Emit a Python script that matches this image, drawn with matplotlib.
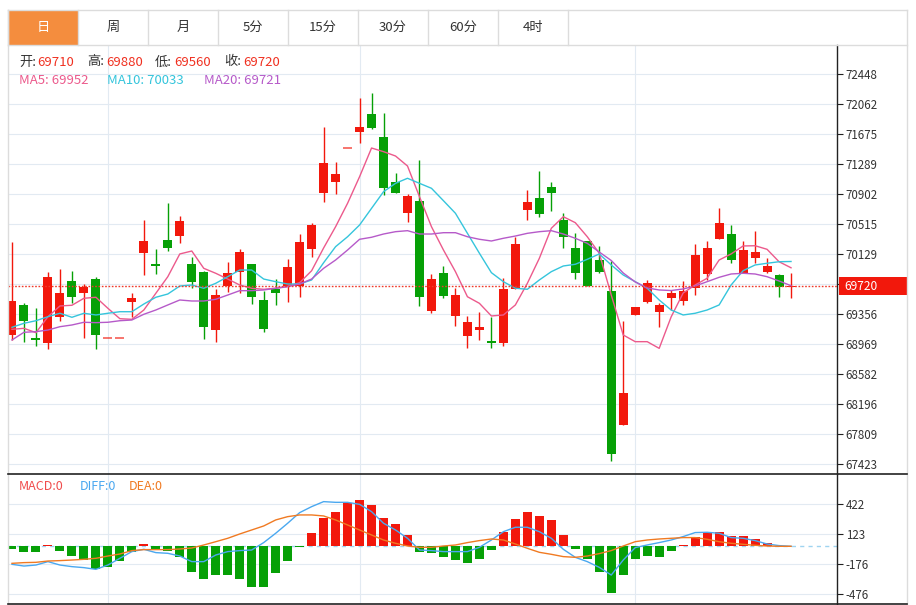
import matplotlib
matplotlib.use('Agg')
import matplotlib.pyplot as plt
from matplotlib.patches import Rectangle
import numpy as np

plt.rcParams['font.family'] = ['Noto Sans CJK SC', 'DejaVu Sans']

# ---------------- data ----------------
tabs = ['日', '周', '月', '5分', '15分', '30分', '60分', '4时']

opens = [69086, 69473, 69047, 68983, 69318, 69782, 69627, 69807, 69047, 69047,
         69511, 70142, 70001, 70310, 70361, 70001, 69898, 69150, 69717, 69898,
         70001, 69537, 69679, 69717, 69717, 70194, 70915, 71057, 71495, 71701,
         71933, 71637, 71057, 70658, 70812, 69395, 69885, 69331, 69073, 69150,
         69009, 68983, 69679, 70696, 70851, 70993, 70568, 70207, 70297, 70052,
         69653, 67927, 69344, 69511, 69382, 69563, 69524, 69692, 69872, 70323,
         70387, 69885, 70078, 69898, 69859, 69710]
highs = [70284, 69498, 69434, 69898, 69936, 69911, 69743, 69833, 69047, 69047,
         69627, 70568, 70194, 70787, 70619, 70091, 69911, 69679, 70026, 70194,
         70001, 69653, 69807, 70065, 70387, 70529, 71766, 71315, 71495, 72139,
         72204, 71946, 71173, 70903, 71341, 69872, 69975, 69692, 69331, 69382,
         69318, 69820, 70349, 70954, 71199, 71057, 70658, 70400, 70297, 70233,
         70039, 69266, 69447, 69795, 69498, 69666, 69782, 70258, 70297, 70722,
         70503, 70297, 70426, 70078, 69872, 69880]
lows = [69022, 68996, 68944, 68906, 69266, 69498, 69047, 68906, 69047, 69047,
        69318, 69859, 69872, 70168, 70271, 69692, 69034, 68996, 69640, 69627,
        69485, 69125, 69473, 69511, 69576, 70091, 70799, 70903, 71495, 71560,
        71740, 70890, 70915, 70542, 69460, 69369, 69563, 69202, 68919, 69022,
        68919, 68944, 69679, 70568, 70606, 70683, 70207, 69807, 69717, 69885,
        67463, 67927, 69344, 69498, 69189, 69408, 69473, 69601, 69795, 70323,
        70014, 69885, 70014, 69885, 69576, 69560]
closes = [69524, 69266, 69022, 69833, 69627, 69576, 69704, 69086, 69047, 69047,
          69563, 70297, 69975, 70207, 70555, 69769, 69189, 69601, 69885, 70155,
          69576, 69163, 69627, 69962, 70284, 70503, 71302, 71160, 71495, 71766,
          71753, 70980, 70915, 70877, 69576, 69807, 69588, 69601, 69253, 69189,
          68983, 69679, 70258, 70799, 70645, 70915, 70349, 69885, 69717, 69898,
          67553, 68339, 69447, 69756, 69473, 69627, 69653, 70117, 70207, 70529,
          70052, 70181, 70155, 69975, 69704, 69720]

ma5 = [69159, 69172, 69116, 69322, 69460, 69469, 69559, 69572, 69430, 69296,
       69288, 69408, 69623, 69837, 70130, 70168, 69945, 69881, 69807, 69730,
       69688, 69675, 69688, 69713, 69760, 69914, 70207, 70481, 70783, 71125,
       71495, 71448, 71392, 71263, 70868, 70481, 70181, 69902, 69579, 69494,
       69331, 69344, 69473, 69752, 70074, 70461, 70610, 70533, 70352, 70139,
       69601, 69086, 69000, 69000, 68914, 69320, 69627, 69730, 69817, 70052,
       70130, 70233, 70236, 70190, 70030, 69952]
ma10 = [69185, 69237, 69270, 69322, 69366, 69314, 69366, 69344, 69366, 69386,
        69386, 69485, 69572, 69614, 69717, 69730, 69688, 69752, 69837, 69923,
        69923, 69807, 69773, 69743, 69743, 69795, 70017, 70224, 70352, 70503,
        70718, 70932, 71040, 71105, 71040, 70976, 70816, 70654, 70396, 70139,
        69889, 69773, 69688, 69675, 69795, 69902, 69975, 69997, 70061, 70130,
        69988, 69859, 69773, 69688, 69537, 69408, 69344, 69366, 69408, 69473,
        69730, 69914, 69988, 70010, 70030, 70033]
ma20 = [69022, 69121, 69129, 69150, 69193, 69215, 69250, 69245, 69250, 69270,
        69279, 69353, 69408, 69473, 69537, 69524, 69524, 69546, 69601, 69657,
        69657, 69666, 69688, 69708, 69743, 69807, 69945, 70052, 70181, 70319,
        70345, 70387, 70417, 70430, 70387, 70387, 70404, 70404, 70352, 70319,
        70297, 70332, 70361, 70396, 70417, 70430, 70387, 70332, 70267, 70155,
        70046, 69885, 69769, 69692, 69666, 69659, 69679, 69717, 69773, 69829,
        69872, 69881, 69872, 69837, 69782, 69721]

macd_hist = [-24, -57, -57, 10, -47, -94, -137, -223, -203, -143,
             -53, 23, -37, -43, -110, -260, -330, -287, -287, -323,
             -403, -403, -270, -143, -10, 130, 286, 346, 436, 463,
             413, 286, 223, 113, -57, -63, -110, -137, -163, -123,
             -40, 143, 273, 340, 306, 263, 110, -24, -127, -253,
             -463, -283, -130, -93, -103, -43, 10, 97, 140, 147,
             100, 100, 77, 33, 5, 0]
diff = [-180, -197, -187, -153, -187, -203, -213, -230, -187, -120,
        -53, -30, -63, -70, -97, -153, -153, -87, -53, -43,
        -37, 37, 130, 230, 336, 396, 446, 439, 439, 419,
        346, 230, 163, 80, -37, -43, -53, -53, -53, -10,
        63, 146, 190, 190, 146, 80, -30, -110, -153, -210,
        -287, -137, -13, 13, 37, 63, 97, 137, 140, 130,
        87, 80, 57, 23, 7, 0]
dea = [-170, -163, -160, -147, -143, -137, -130, -120, -97, -77,
       -43, -33, -33, -33, -27, -17, 13, 46, 80, 123,
       163, 203, 263, 296, 313, 313, 303, 263, 213, 163,
       113, 63, 30, 3, -10, -10, 3, 13, 37, 57,
       73, 63, 23, -20, -60, -80, -103, -110, -97, -73,
       -43, 3, 46, 63, 73, 80, 87, 87, 70, 46,
       30, 20, 10, 3, 0, 0]

price_ticks = [72448, 72062, 71675, 71289, 70902, 70515, 70129, 69742,
               69356, 68969, 68582, 68196, 67809, 67423]
macd_ticks = [422, 123, -176, -476]
month_starts = [8, 29, 52]
last_price = 69720
header_ohlc = [('开', 69710), ('高', 69880), ('低', 69560), ('收', 69720)]
header_ma = [('MA5', 69952), ('MA10', 70033), ('MA20', 69721)]
header_macd = [('MACD', 0), ('DIFF', 0), ('DEA', 0)]

# ---------------- style ----------------
W, H = 916, 605
RED = '#f2180c'
GREEN = '#06a006'
GRID = '#e2eaf2'
FRAME = '#dcdcdc'
C_MA5 = '#ec5a8c'
C_MA10 = '#35c5dc'
C_MA20 = '#b65ac9'
C_DIFF = '#4aa8f0'
C_DEA = '#f07a22'
C_MACD = '#f04c4c'

fig = plt.figure(figsize=(W / 100, H / 100), dpi=100)
fig.patch.set_facecolor('white')

L, R = 8, 837
T_MAIN, B_MAIN, B_MACD = 45, 474, 604
step = 11.985
x0 = 12
xlim = ((L - x0) / step, (R - x0) / step)

ax = fig.add_axes([L / W, (H - B_MAIN) / H, (R - L) / W, (B_MAIN - T_MAIN) / H])
ax2 = fig.add_axes([L / W, (H - B_MACD) / H, (R - L) / W, (B_MACD - B_MAIN) / H])

x = np.arange(len(closes))
bw = 0.75

# main panel
def px_to_price(y):
    return 72062 - (y - 104) * (386.5 / 30.0)

ax.set_xlim(*xlim)
ax.set_ylim(px_to_price(B_MAIN), px_to_price(T_MAIN))
for v in price_ticks:
    ax.axhline(v, color=GRID, lw=0.8, zorder=0)
for m in month_starts:
    ax.axvline(m, color=GRID, lw=0.8, zorder=0)

for i in range(len(closes)):
    o, h, l, c = opens[i], highs[i], lows[i], closes[i]
    col = RED if c >= o else GREEN
    if h > l:
        ax.vlines(i, l, h, color=col, lw=1.0, zorder=2)
    if abs(c - o) < 1:
        ax.hlines(o, i - bw / 2, i + bw / 2, color=col, lw=1.4, alpha=0.6, zorder=3)
    else:
        ax.bar(i, c - o, bottom=o, width=bw, color=col, lw=0, zorder=3)

ax.plot(x, ma5, color=C_MA5, lw=1.0, zorder=4)
ax.plot(x, ma10, color=C_MA10, lw=1.0, zorder=4)
ax.plot(x, ma20, color=C_MA20, lw=1.0, zorder=4)
ax.axhline(last_price, color='#f03a2a', lw=1.0, ls=(0, (1.2, 1.2)), zorder=5)

ax.yaxis.tick_right()
ax.set_yticks(price_ticks)
ax.set_yticklabels([str(v) for v in price_ticks])
ax.tick_params(axis='y', length=4, width=0.8, color='#222222', pad=2.2,
               labelsize=8.3, labelcolor='#333333')
ax.set_xticks([])
for s in ['top', 'bottom', 'left']:
    ax.spines[s].set_visible(False)
ax.spines['right'].set_color('#222222')
ax.spines['right'].set_linewidth(1.0)

# MACD panel
ax2.set_xlim(*xlim)
zero_y = 546.3
scale = 299.5 / 30.0
ax2.set_ylim((zero_y - B_MACD) * scale, (zero_y - B_MAIN) * scale)
for v in macd_ticks:
    ax2.axhline(v, color=GRID, lw=0.8, zorder=0)
for m in month_starts:
    ax2.axvline(m, color=GRID, lw=0.8, zorder=0)
ax2.axhline(0, color='#9fd4f0', lw=1.0, ls=(0, (3, 3)), zorder=1)
bar_cols = [RED if v > 0 else GREEN for v in macd_hist]
ax2.bar(x, macd_hist, width=bw, color=bar_cols, lw=0, zorder=2)
ax2.plot(x, diff, color=C_DIFF, lw=1.0, zorder=3)
ax2.plot(x, dea, color=C_DEA, lw=1.0, zorder=3)
ax2.yaxis.tick_right()
ax2.set_yticks(macd_ticks)
ax2.set_yticklabels([str(v) for v in macd_ticks])
ax2.tick_params(axis='y', length=4, width=0.8, color='#222222', pad=2.2,
                labelsize=8.3, labelcolor='#333333')
ax2.set_xticks([])
for s in ['top', 'bottom', 'left']:
    ax2.spines[s].set_visible(False)
ax2.spines['right'].set_color('#222222')
ax2.spines['right'].set_linewidth(1.0)

# overlay in pixel coordinates: frame, tabs, headers
ov = fig.add_axes([0, 0, 1, 1], zorder=10)
ov.set_xlim(0, W)
ov.set_ylim(H, 0)
ov.axis('off')
ov.patch.set_alpha(0)

tab_w = 70
ov.add_patch(Rectangle((L, 9.5), tab_w, 35.5, color='#f48d3e', lw=0))
ov.plot([L, 907], [9.5, 9.5], color=FRAME, lw=1)
ov.plot([L, 907], [45, 45], color=FRAME, lw=1)
for k in range(len(tabs) + 1):
    ov.plot([L + k * tab_w, L + k * tab_w], [9.5, 45], color=FRAME, lw=1)
for k, t in enumerate(tabs):
    ov.text(L + k * tab_w + tab_w / 2, 27.5, t, ha='center', va='center',
            fontsize=9.5, color='white' if k == 0 else '#333333')
ov.plot([L, L], [9.5, B_MACD], color=FRAME, lw=1)
ov.plot([907, 907], [9.5, B_MACD], color=FRAME, lw=1)
ov.plot([L, 907], [B_MAIN, B_MAIN], color='#222222', lw=1.2)
ov.plot([L, 907], [B_MACD, B_MACD], color='#222222', lw=1.2)

# header row 1
lab_x = [19, 87, 155, 224]
val_x = [37.5, 106, 174, 243]
for (lab, val), lx, vx in zip(header_ohlc, lab_x, val_x):
    ov.text(lx, 62, lab + ':', ha='left', va='center', fontsize=9.5, color='#333333')
    ov.text(vx, 62, str(val), ha='left', va='center', fontsize=9.5, color='#f03020')
# header row 2
for (lab, val), lx, col in zip(header_ma, [19, 107, 204], [C_MA5, C_MA10, C_MA20]):
    ov.text(lx, 80, f'{lab}: {val}', ha='left', va='center', fontsize=9.5, color=col)
# MACD header
for (lab, val), lx, col in zip(header_macd, [19, 80, 129], [C_MACD, C_DIFF, C_DEA]):
    ov.text(lx, 486, f'{lab}:{val}', ha='left', va='center', fontsize=9, color=col)

# last price label
ov.add_patch(Rectangle((838.5, 277), 68, 18, color=RED, lw=0))
ov.text(844, 286, str(last_price), ha='left', va='center', fontsize=8.6, color='white')

fig.savefig('out.png', dpi=100, facecolor='white')
